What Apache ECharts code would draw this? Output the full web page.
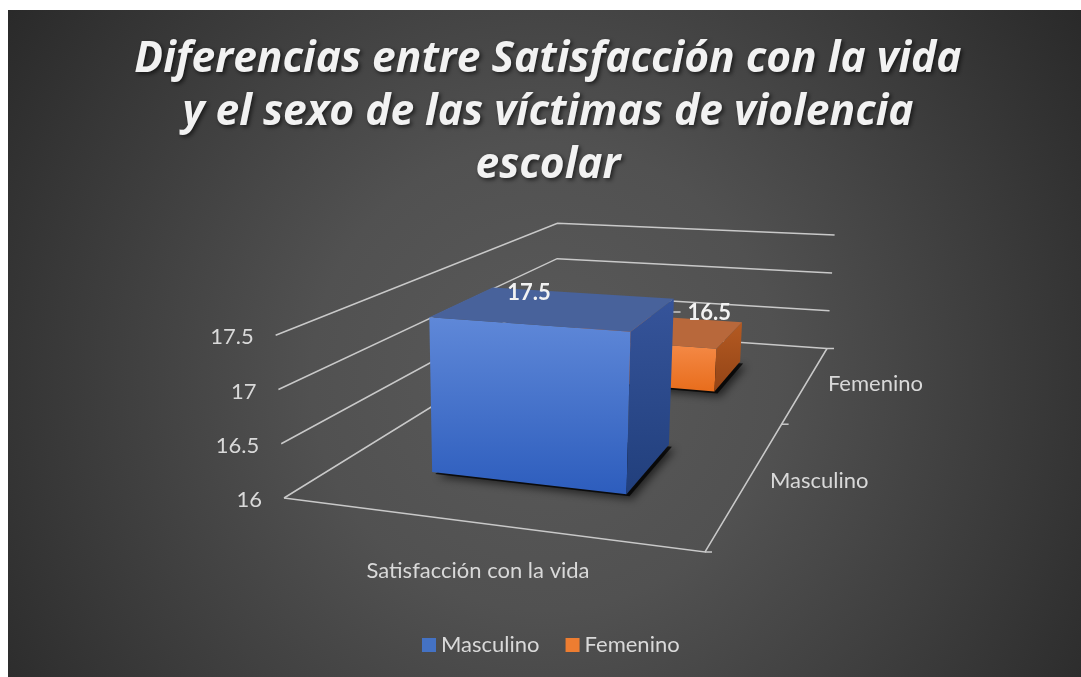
<!DOCTYPE html>
<html>
<head>
<meta charset="utf-8">
<script src="https://cdn.jsdelivr.net/npm/echarts@6/dist/echarts.min.js"></script>
<style>
  html, body { margin: 0; padding: 0; background: #ffffff; }
  #chart { width: 1081px; height: 677px; }
</style>
</head>
<body>
<div id="chart"></div>
<script>
// ---------------- data ----------------
const titleText = 'Diferencias entre Satisfacción con la vida\ny el sexo de las víctimas de violencia\nescolar';
const categories = ['Satisfacción con la vida'];
const seriesNames = ['Masculino', 'Femenino'];
const masculinoValues = [17.5];
const femeninoValues = [16.5];
const yTicks = [16, 16.5, 17, 17.5];
const yMin = 16;
const yMax = 17.5;
const yInterval = 0.5;

// ---------------- layout (3D projection) ----------------
const FLOOR = { p00: [284, 498], p10: [705, 552], p11: [827, 348.5], p01: [556.5, 329.5] };
const VP = [515, 5000];          // vertical vanishing point (far below)
const HEIGHT_EXP = 0.9;
const BAR_WIDTH_RATIO = 0.5;
const BAR_DEPTH_RATIO = 0.4167;
const GRID_COLOR = '#c9c9c9';
const TEXT_COLOR = '#d9d9d9';
const FONT = 'Lato';
const LABEL_SIZE = 22;

const STYLES = {
  Masculino: {
    legend: '#4472c4',
    front: ['#5f88d8', '#2d5dbd'],
    top: '#48629b',
    side: ['#36549a', '#213f7c']
  },
  Femenino: {
    legend: '#ed7d31',
    front: ['#f68d4c', '#e86d1c'],
    top: '#b8683b',
    side: ['#b45a22', '#934416']
  }
};
const LABEL_LAYOUT = {
  Masculino: { dx: 2, dy: -31, align: 'center', leader: null },
  Femenino: { dx: 51, dy: -30, align: 'left', leader: [[0, 0], [31, -31], [44, -31]] }
};

// homography from unit square to floor quad
const H = (function () {
  const [x0, y0] = FLOOR.p00, [x1, y1] = FLOOR.p10, [x2, y2] = FLOOR.p11, [x3, y3] = FLOOR.p01;
  const dx1 = x1 - x2, dx2 = x3 - x2, dx3 = x0 - x1 + x2 - x3;
  const dy1 = y1 - y2, dy2 = y3 - y2, dy3 = y0 - y1 + y2 - y3;
  const det = dx1 * dy2 - dx2 * dy1;
  const g = (dx3 * dy2 - dx2 * dy3) / det;
  const h = (dx1 * dy3 - dx3 * dy1) / det;
  return {
    a: x1 - x0 + g * x1, b: x3 - x0 + h * x3, c: x0,
    d: y1 - y0 + g * y1, e: y3 - y0 + h * y3, f: y0, g: g, h: h
  };
})();

function project(u, v, hpx) {
  const den = H.g * u + H.h * v + 1;
  const xb = (H.a * u + H.b * v + H.c) / den;
  const yb = (H.d * u + H.e * v + H.f) / den;
  const L = hpx * Math.pow(1 / den, HEIGHT_EXP);
  const dx = xb - VP[0], dy = yb - VP[1];
  const len = Math.sqrt(dx * dx + dy * dy);
  return [xb + dx / len * L, yb + dy / len * L];
}

function heightPx(api, val) {
  return api.coord([0, yMin])[1] - api.coord([0, val])[1];
}

function lin(c) {
  return { type: 'linear', x: 0, y: 0, x2: 0, y2: 1, colorStops: [{ offset: 0, color: c[0] }, { offset: 1, color: c[1] }] };
}

// ---------------- render functions ----------------
function renderGrid(params, api) {
  const t = api.value(1);
  const hp = heightPx(api, t);
  const children = [];
  children.push({
    type: 'polyline',
    shape: { points: [project(0, 0, hp), project(0, 1, hp), project(1, 1, hp)] },
    style: { stroke: GRID_COLOR, lineWidth: 1.5, fill: null }
  });
  const lp = project(0, 0, hp);
  children.push({
    type: 'text',
    style: {
      text: String(t), x: lp[0] - 22, y: lp[1] + 2,
      fill: TEXT_COLOR, fontSize: LABEL_SIZE, fontFamily: FONT,
      align: 'right', verticalAlign: 'middle'
    }
  });
  if (t === yMin) {
    children.push({
      type: 'polyline',
      shape: { points: [project(0, 0, 0), project(1, 0, 0), project(1, 1, 0)] },
      style: { stroke: GRID_COLOR, lineWidth: 1.5, fill: null }
    });
    const n = seriesNames.length;
    for (let i = 0; i <= n; i++) {
      const p = project(1, i / n, 0);
      children.push({
        type: 'line',
        shape: { x1: p[0], y1: p[1], x2: p[0] + 7, y2: p[1] },
        style: { stroke: GRID_COLOR, lineWidth: 1.5 }
      });
    }
    for (let i = 0; i < n; i++) {
      const p = project(1, (i + 0.5) / n, 0);
      children.push({
        type: 'text',
        style: {
          text: seriesNames[i], x: p[0] + 21, y: p[1] + 2,
          fill: TEXT_COLOR, fontSize: LABEL_SIZE, fontFamily: FONT,
          align: 'left', verticalAlign: 'middle'
        }
      });
    }
  }
  return { type: 'group', children: children };
}

function renderBar(params, api) {
  const name = params.seriesName;
  const row = seriesNames.indexOf(name);
  const nRows = seriesNames.length;
  const nCat = categories.length;
  const ci = api.value(0);
  const val = api.value(1);
  const hp = heightPx(api, val);
  const uc = (ci + 0.5) / nCat, uw = BAR_WIDTH_RATIO / nCat;
  const vc = (row + 0.5) / nRows, vd = BAR_DEPTH_RATIO / nRows;
  const uL = uc - uw / 2, uR = uc + uw / 2, vF = vc - vd / 2, vB = vc + vd / 2;
  const st = STYLES[name];
  const P = (u, v, hh) => project(u, v, hh);
  const children = [];
  // shadow footprint
  children.push({
    type: 'polygon',
    shape: { points: [P(uL, vF, 0), P(uR, vF, 0), P(uR, vB, 0), P(uL, vB, 0)] },
    style: { fill: 'rgba(0,0,0,0.75)', shadowBlur: 8, shadowColor: 'rgba(0,0,0,0.8)', shadowOffsetX: 3, shadowOffsetY: 3 },
    x: 3, y: 2
  });
  children.push({
    type: 'polygon',
    shape: { points: [P(uL, vF, 0), P(uR, vF, 0), P(uR, vF, hp), P(uL, vF, hp)] },
    style: { fill: lin(st.front) }
  });
  children.push({
    type: 'polygon',
    shape: { points: [P(uR, vF, 0), P(uR, vB, 0), P(uR, vB, hp), P(uR, vF, hp)] },
    style: { fill: lin(st.side) }
  });
  children.push({
    type: 'polygon',
    shape: { points: [P(uL, vF, hp), P(uR, vF, hp), P(uR, vB, hp), P(uL, vB, hp)] },
    style: { fill: st.top }
  });
  // data label
  const anchor = P(uc, vF, hp);
  const lay = LABEL_LAYOUT[name];
  if (lay.leader) {
    children.push({
      type: 'polyline',
      shape: { points: lay.leader.map(p => [anchor[0] + p[0], anchor[1] + p[1]]) },
      style: { stroke: GRID_COLOR, lineWidth: 1.5, fill: null }
    });
  }
  children.push({
    type: 'text',
    style: {
      text: String(val), x: anchor[0] + lay.dx, y: anchor[1] + lay.dy,
      fill: '#f2f2f2', fontSize: LABEL_SIZE, fontWeight: 'bold', fontFamily: FONT,
      align: lay.align, verticalAlign: 'middle'
    }
  });
  return { type: 'group', children: children };
}

// ---------------- chart ----------------
const chart = echarts.init(document.getElementById('chart'), null, { renderer: 'canvas' });
const option = {
  animation: false,
  backgroundColor: '#ffffff',
  graphic: [{
    type: 'rect', z: -10, silent: true,
    shape: { x: 8, y: 10, width: 1073, height: 667 },
    style: {
      fill: {
        type: 'radial', x: 0.5, y: 0.55, r: 1,
        colorStops: [
          { offset: 0, color: '#5a5a5a' },
          { offset: 0.35, color: '#515151' },
          { offset: 0.75, color: '#383838' },
          { offset: 1, color: '#282828' }
        ]
      }
    }
  }],
  title: {
    text: titleText,
    left: 548, top: 33, textAlign: 'center', padding: 0,
    textStyle: {
      color: '#f2f2f2', fontSize: 42.5, fontWeight: 'bold', fontStyle: 'italic',
      fontFamily: 'Open Sans', lineHeight: 53,
      textShadowColor: 'rgba(0,0,0,0.6)', textShadowBlur: 4, textShadowOffsetX: 2, textShadowOffsetY: 2
    }
  },
  legend: {
    data: seriesNames,
    left: 417, top: 629,
    icon: 'rect', itemWidth: 14, itemHeight: 14, itemGap: 26,
    textStyle: { color: TEXT_COLOR, fontSize: LABEL_SIZE, fontFamily: FONT },
    selectedMode: false
  },
  grid: { left: 284, top: 335, width: 388, height: 163 },
  xAxis: {
    type: 'category', data: categories,
    axisLine: { show: false }, axisTick: { show: false }, splitLine: { show: false },
    axisLabel: { color: TEXT_COLOR, fontSize: LABEL_SIZE, fontFamily: FONT, margin: 62 }
  },
  yAxis: {
    type: 'value', min: yMin, max: yMax, interval: yInterval, show: false
  },
  series: [
    {
      type: 'custom', name: '_grid', z: 1, silent: true,
      renderItem: renderGrid,
      data: yTicks.map(t => [0, t])
    },
    {
      type: 'custom', name: seriesNames[1], z: 2, silent: true,
      itemStyle: { color: STYLES.Femenino.legend },
      renderItem: renderBar,
      data: femeninoValues.map((v, i) => [i, v])
    },
    {
      type: 'custom', name: seriesNames[0], z: 3, silent: true,
      itemStyle: { color: STYLES.Masculino.legend },
      renderItem: renderBar,
      data: masculinoValues.map((v, i) => [i, v])
    }
  ]
};
chart.setOption(option);
</script>
</body>
</html>
